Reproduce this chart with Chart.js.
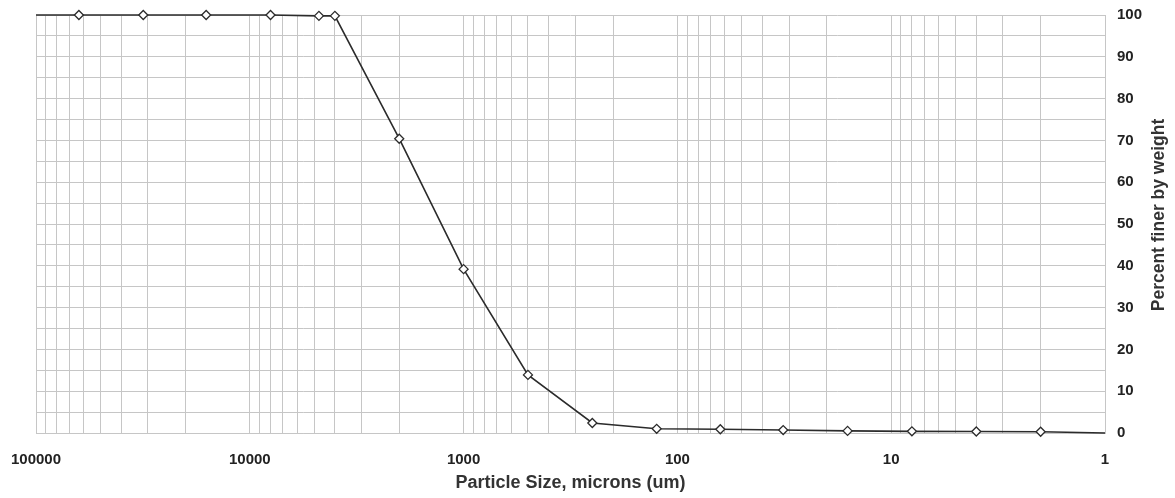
<!DOCTYPE html>
<html>
<head>
<meta charset="utf-8">
<script src="https://cdn.jsdelivr.net/npm/chart.js@4"></script>
<style>
    html, body { margin: 0; padding: 0; background: #fff; }
    #chart { display: block; }
</style>
</head>
<body>
<canvas id="chart" width="1175" height="498"></canvas>
<script>
// ========== DATA ==========
const sizes = [100000, 63000, 31500, 16000, 8000, 4750, 4000, 2000, 1000, 500, 250, 125, 63, 32, 16, 8, 4, 2, 1];
const percentFiner = [100, 100, 100, 100, 100, 99.8, 99.8, 70.4, 39.2, 13.9, 2.4, 1.0, 0.9, 0.7, 0.5, 0.4, 0.35, 0.3, 0];
// first and last points are line ends only, no marker
const markerRadius = [0, 4.5, 4.5, 4.5, 4.5, 4.5, 4.5, 4.5, 4.5, 4.5, 4.5, 4.5, 4.5, 4.5, 4.5, 4.5, 4.5, 4.5, 0];

const decades = [1, 10, 100, 1000, 10000, 100000];
const yLabelStep = 10;
const yGridStep = 5;

const xTitle = 'Particle Size, microns (um)';
const yTitle = 'Percent finer by weight';

// minor log ticks 1..9 for every decade
const xTickValues = [];
decades.forEach(d => {
    for (let m = 1; m <= 9; m++) {
        const v = d * m;
        if (v <= 100000) xTickValues.push(v);
    }
});

const points = sizes.map((s, i) => ({ x: s, y: percentFiner[i] }));

const labelFont = { family: 'Liberation Sans, Arial, sans-serif', size: 15, weight: 'bold' };
const gridColor = '#c6c6c6';

// ========== AXIS TITLES ==========
const axisTitles = {
    id: 'axisTitles',
    afterDraw(chart) {
        const ctx = chart.ctx;
        const area = chart.chartArea;
        ctx.save();
        ctx.fillStyle = '#333';
        ctx.textAlign = 'center';
        ctx.textBaseline = 'middle';
        ctx.font = 'bold 18px "Liberation Sans", Arial, sans-serif';
        ctx.fillText(xTitle, (area.left + area.right) / 2, 483);

        ctx.font = 'bold 17.5px "Liberation Sans", Arial, sans-serif';
        ctx.translate(1159, 215);
        ctx.rotate(-Math.PI / 2);
        ctx.fillText(yTitle, 0, 0);
        ctx.restore();
    }
};

// ========== CHART ==========
const ctx = document.getElementById('chart').getContext('2d');
new Chart(ctx, {
    type: 'line',
    data: {
        datasets: [{
            label: 'Percent finer',
            data: points,
            borderColor: '#2b2b2b',
            borderWidth: 1.6,
            pointStyle: 'rectRot',
            pointRadius: markerRadius,
            pointBackgroundColor: '#fff',
            pointBorderColor: '#2b2b2b',
            pointBorderWidth: 1.3,
            tension: 0,
            fill: false,
            clip: false
        }]
    },
    options: {
        responsive: false,
        devicePixelRatio: 1,
        animation: false,
        layout: { padding: { left: 36, top: 15, right: 0, bottom: 0 } },
        plugins: {
            legend: { display: false },
            tooltip: { enabled: false }
        },
        scales: {
            x: {
                type: 'logarithmic',
                min: 1,
                max: 100000,
                reverse: true,
                afterBuildTicks: scale => {
                    scale.ticks = xTickValues.map(v => ({ value: v }));
                },
                afterFit: scale => {
                    scale.height = 65;
                    scale.paddingLeft = 0;
                    scale.paddingRight = 0;
                },
                grid: { color: gridColor, lineWidth: 1, drawTicks: false },
                border: { color: gridColor },
                ticks: {
                    autoSkip: false,
                    maxRotation: 0,
                    padding: 18,
                    color: '#222',
                    font: labelFont,
                    callback: value => decades.includes(value) ? String(value) : ''
                }
            },
            y: {
                position: 'right',
                min: 0,
                max: 100,
                afterFit: scale => {
                    scale.width = 70;
                    scale.paddingTop = 0;
                    scale.paddingBottom = 0;
                },
                grid: { color: gridColor, lineWidth: 1, drawTicks: false },
                border: { color: gridColor },
                ticks: {
                    stepSize: yGridStep,
                    autoSkip: false,
                    padding: 12,
                    color: '#222',
                    font: labelFont,
                    callback: value => value % yLabelStep === 0 ? String(value) : ''
                }
            }
        }
    },
    plugins: [axisTitles]
});
</script>
</body>
</html>
